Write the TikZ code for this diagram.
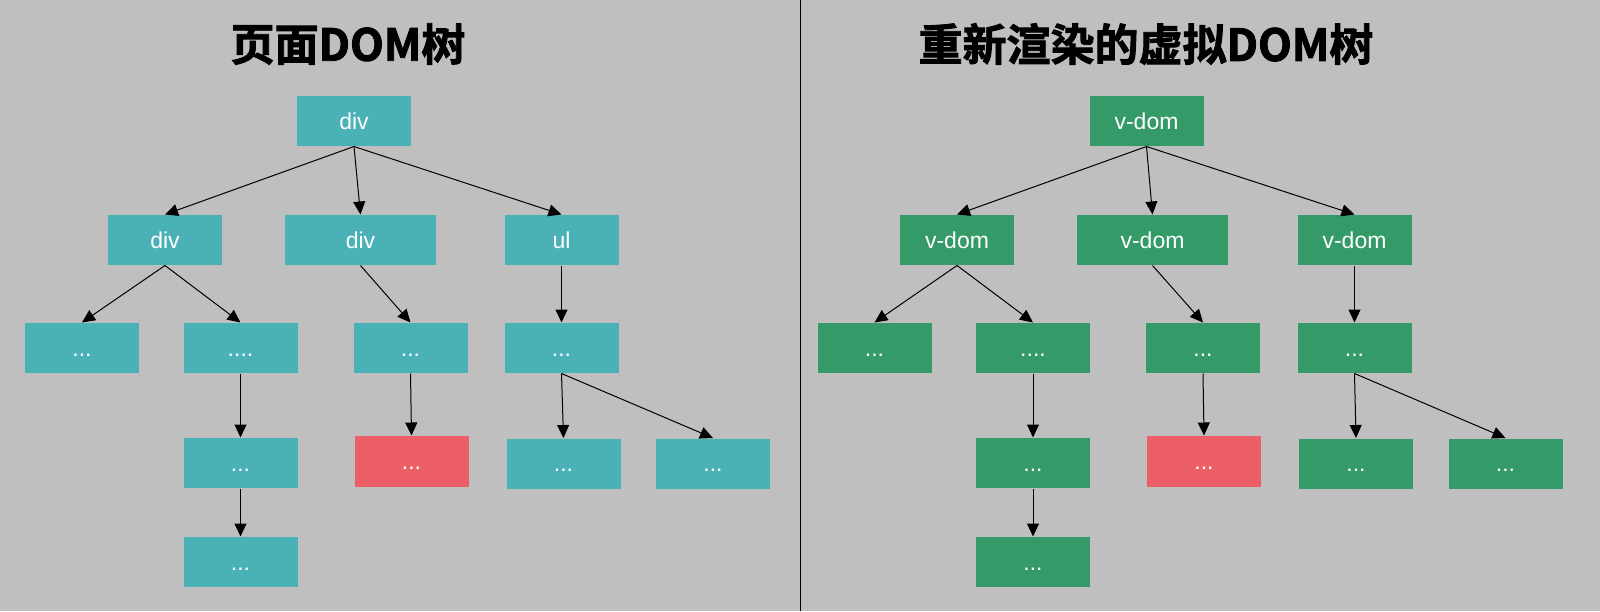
\documentclass[tikz,border=0pt]{standalone}
\usepackage{fontspec}
\setmainfont{Liberation Sans}
\newfontfamily\cjk{Noto Sans CJK SC}[BoldFont={Noto Sans CJK SC Bold}, BoldFeatures={FakeBold=2}]
\usetikzlibrary{arrows.meta}
\definecolor{bggray}{HTML}{BFBFBF}
\definecolor{domteal}{HTML}{4AB1B7}
\definecolor{vdomgreen}{HTML}{339A68}
\definecolor{changedred}{HTML}{EC5F67}
\tikzset{
	box/.style={fill=#1, text=white, minimum width=57pt, minimum height=25pt, inner sep=0pt,
		font=\fontsize{11.5}{12}\selectfont, text height=9pt, text depth=1pt},
	widebox/.style={box=#1, minimum width=75.5pt},
	treetitle/.style={font=\cjk\bfseries\fontsize{22}{24}\selectfont}
}
\begin{document}
\begin{tikzpicture}[x=0.5pt, y=-0.5pt, line width=0.5pt, >={Triangle[length=6.5pt,width=6pt]}]
	\fill[bggray] (0,0) rectangle (1600,611);
	\useasboundingbox (0,0) rectangle (1600,611);
	\draw (800,0)--(800,611);
	% page DOM tree
	\node[treetitle] (ltitle) at (348,44) {页面DOM树};
	\node[box=domteal] (lroot) at (354,121) {div};
	\node[box=domteal] (ldiva) at (165,240) {div};
	\node[widebox=domteal] (ldivb) at (360.5,240) {div};
	\node[box=domteal] (lul) at (561.5,240) {ul};
	\node[box=domteal] (la) at (82,348) {...};
	\node[box=domteal] (lb) at (240.5,348) {....};
	\node[box=domteal] (lc) at (410.5,348) {...};
	\node[box=domteal] (ld) at (561.5,348) {...};
	\node[box=domteal] (le) at (240.5,463) {...};
	\node[box=changedred, minimum height=25.5pt] (lf) at (411.5,461.5) {...};
	\node[box=domteal] (lg) at (563.5,463.5) {...};
	\node[box=domteal] (lh) at (713,463.5) {...};
	\node[box=domteal] (li) at (240.5,562) {...};
	\draw[->] (lroot.south)--(ldiva.north);
	\draw[->] (lroot.south)--(ldivb.north);
	\draw[->] (lroot.south)--(lul.north);
	\draw[->] (ldiva.south)--(la.north);
	\draw[->] (ldiva.south)--(lb.north);
	\draw[->] (ldivb.south)--(lc.north);
	\draw[->] (lul.south)--(ld.north);
	\draw[->] (lb.south)--(le.north);
	\draw[->] (le.south)--(li.north);
	\draw[->] (lc.south)--(lf.north);
	\draw[->] (ld.south)--(lg.north);
	\draw[->] (ld.south)--(lh.north);
	% re-rendered virtual DOM tree
	\node[treetitle] (rtitle) at (1146,44) {重新渲染的虚拟DOM树};
	\node[box=vdomgreen] (rroot) at (1146.5,121) {v-dom};
	\node[box=vdomgreen] (rva) at (957,240) {v-dom};
	\node[widebox=vdomgreen] (rvb) at (1152.5,240) {v-dom};
	\node[box=vdomgreen] (rvc) at (1354.5,240) {v-dom};
	\node[box=vdomgreen] (ra) at (874.5,348) {...};
	\node[box=vdomgreen] (rb) at (1033,348) {....};
	\node[box=vdomgreen] (rc) at (1203,348) {...};
	\node[box=vdomgreen] (rd) at (1354.5,348) {...};
	\node[box=vdomgreen] (re) at (1033,463) {...};
	\node[box=changedred, minimum height=25.5pt] (rf) at (1204,461.5) {...};
	\node[box=vdomgreen] (rg) at (1356,463.5) {...};
	\node[box=vdomgreen] (rh) at (1505.5,463.5) {...};
	\node[box=vdomgreen] (ri) at (1033,562) {...};
	\draw[->] (rroot.south)--(rva.north);
	\draw[->] (rroot.south)--(rvb.north);
	\draw[->] (rroot.south)--(rvc.north);
	\draw[->] (rva.south)--(ra.north);
	\draw[->] (rva.south)--(rb.north);
	\draw[->] (rvb.south)--(rc.north);
	\draw[->] (rvc.south)--(rd.north);
	\draw[->] (rb.south)--(re.north);
	\draw[->] (re.south)--(ri.north);
	\draw[->] (rc.south)--(rf.north);
	\draw[->] (rd.south)--(rg.north);
	\draw[->] (rd.south)--(rh.north);
\end{tikzpicture}
\end{document}
